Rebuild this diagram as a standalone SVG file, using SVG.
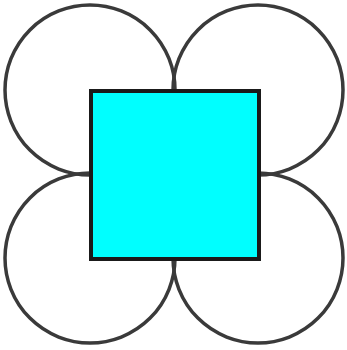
<svg xmlns="http://www.w3.org/2000/svg" width="347" height="350" viewBox="0 0 347 350">
<style>
.c{fill:none;stroke:#3a3a3a;stroke-width:3.5}
.sq{fill:#00ffff;stroke:#1a1a1a;stroke-width:4}
</style>
<rect width="347" height="350" fill="#fff"/>
<g id="circles">
<circle id="c1" class="c" cx="90" cy="90" r="85"/>
<circle id="c2" class="c" cx="258" cy="90" r="85"/>
<circle id="c3" class="c" cx="90" cy="258" r="85"/>
<circle id="c4" class="c" cx="258" cy="258" r="85"/>
</g>
<g id="square">
<rect class="sq" x="91" y="91" width="168" height="168"/>
</g>
</svg>
